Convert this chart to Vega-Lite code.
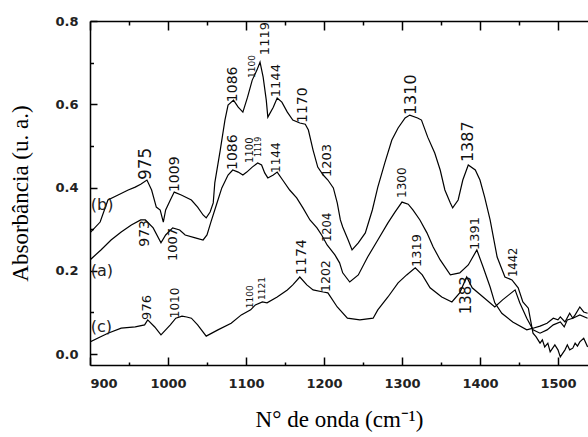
{
  "$schema": "https://vega.github.io/schema/vega-lite/v6.json",
  "autosize": "none",
  "width": 498,
  "height": 344,
  "padding": {"left": 90, "top": 21, "right": 0, "bottom": 72},
  "background": "white",
  "config": {"view": {"stroke": null}, "axis": {"grid": false, "domainColor": "#000", "tickColor": "#000", "domainWidth": 1.5, "tickWidth": 1.5}},
  "datasets": {
    "curves": [
      {"s":"b","x":900,"y":0.291},{"s":"b","x":913,"y":0.317},{"s":"b","x":923,"y":0.370},{"s":"b","x":936,"y":0.382},{"s":"b","x":949,"y":0.394},{"s":"b","x":958,"y":0.401},{"s":"b","x":965,"y":0.408},{"s":"b","x":973,"y":0.418},{"s":"b","x":979,"y":0.394},{"s":"b","x":985,"y":0.353},{"s":"b","x":990,"y":0.346},{"s":"b","x":994,"y":0.317},{"s":"b","x":997,"y":0.346},{"s":"b","x":1003,"y":0.370},{"s":"b","x":1008,"y":0.389},{"s":"b","x":1017,"y":0.382},{"s":"b","x":1030,"y":0.370},{"s":"b","x":1038,"y":0.353},{"s":"b","x":1045,"y":0.334},{"s":"b","x":1049,"y":0.327},{"s":"b","x":1054,"y":0.341},{"s":"b","x":1058,"y":0.363},{"s":"b","x":1060,"y":0.411},{"s":"b","x":1067,"y":0.490},{"s":"b","x":1073,"y":0.562},{"s":"b","x":1077,"y":0.598},{"s":"b","x":1084,"y":0.610},{"s":"b","x":1090,"y":0.593},{"s":"b","x":1096,"y":0.581},{"s":"b","x":1102,"y":0.617},{"s":"b","x":1108,"y":0.658},{"s":"b","x":1114,"y":0.682},{"s":"b","x":1118,"y":0.701},{"s":"b","x":1122,"y":0.665},{"s":"b","x":1126,"y":0.610},{"s":"b","x":1128,"y":0.569},{"s":"b","x":1135,"y":0.593},{"s":"b","x":1140,"y":0.615},{"s":"b","x":1146,"y":0.605},{"s":"b","x":1153,"y":0.581},{"s":"b","x":1160,"y":0.562},{"s":"b","x":1169,"y":0.555},{"s":"b","x":1176,"y":0.552},{"s":"b","x":1180,"y":0.538},{"s":"b","x":1186,"y":0.490},{"s":"b","x":1192,"y":0.449},{"s":"b","x":1199,"y":0.430},{"s":"b","x":1205,"y":0.418},{"s":"b","x":1212,"y":0.399},{"s":"b","x":1217,"y":0.363},{"s":"b","x":1221,"y":0.322},{"s":"b","x":1224,"y":0.305},{"s":"b","x":1231,"y":0.274},{"s":"b","x":1236,"y":0.250},{"s":"b","x":1244,"y":0.267},{"s":"b","x":1253,"y":0.291},{"s":"b","x":1262,"y":0.346},{"s":"b","x":1269,"y":0.401},{"s":"b","x":1278,"y":0.459},{"s":"b","x":1287,"y":0.514},{"s":"b","x":1295,"y":0.543},{"s":"b","x":1304,"y":0.567},{"s":"b","x":1310,"y":0.574},{"s":"b","x":1320,"y":0.567},{"s":"b","x":1325,"y":0.562},{"s":"b","x":1333,"y":0.521},{"s":"b","x":1342,"y":0.483},{"s":"b","x":1349,"y":0.442},{"s":"b","x":1355,"y":0.394},{"s":"b","x":1362,"y":0.363},{"s":"b","x":1365,"y":0.351},{"s":"b","x":1372,"y":0.370},{"s":"b","x":1378,"y":0.418},{"s":"b","x":1385,"y":0.454},{"s":"b","x":1394,"y":0.442},{"s":"b","x":1400,"y":0.418},{"s":"b","x":1406,"y":0.377},{"s":"b","x":1413,"y":0.322},{"s":"b","x":1422,"y":0.233},{"s":"b","x":1432,"y":0.185},{"s":"b","x":1441,"y":0.178},{"s":"b","x":1449,"y":0.159},{"s":"b","x":1455,"y":0.125},{"s":"b","x":1462,"y":0.110},{"s":"b","x":1468,"y":0.050},{"s":"b","x":1472,"y":0.041},{"s":"b","x":1477,"y":0.026},{"s":"b","x":1480,"y":0.034},{"s":"b","x":1483,"y":0.017},{"s":"b","x":1487,"y":0.026},{"s":"b","x":1490,"y":0.005},{"s":"b","x":1496,"y":0.022},{"s":"b","x":1500,"y":0.010},{"s":"b","x":1503,"y":-0.007},{"s":"b","x":1509,"y":0.010},{"s":"b","x":1512,"y":0.022},{"s":"b","x":1515,"y":0.010},{"s":"b","x":1519,"y":0.014},{"s":"b","x":1522,"y":0.026},{"s":"b","x":1525,"y":0.019},{"s":"b","x":1528,"y":0.029},{"s":"b","x":1533,"y":0.038},{"s":"b","x":1538,"y":0.017},
      {"s":"a","x":900,"y":0.226},{"s":"a","x":914,"y":0.250},{"s":"a","x":927,"y":0.274},{"s":"a","x":940,"y":0.293},{"s":"a","x":953,"y":0.310},{"s":"a","x":965,"y":0.322},{"s":"a","x":971,"y":0.322},{"s":"a","x":981,"y":0.303},{"s":"a","x":991,"y":0.267},{"s":"a","x":997,"y":0.286},{"s":"a","x":1006,"y":0.303},{"s":"a","x":1015,"y":0.298},{"s":"a","x":1022,"y":0.286},{"s":"a","x":1035,"y":0.279},{"s":"a","x":1045,"y":0.274},{"s":"a","x":1050,"y":0.286},{"s":"a","x":1055,"y":0.317},{"s":"a","x":1062,"y":0.358},{"s":"a","x":1069,"y":0.399},{"s":"a","x":1077,"y":0.430},{"s":"a","x":1083,"y":0.442},{"s":"a","x":1090,"y":0.437},{"s":"a","x":1096,"y":0.430},{"s":"a","x":1101,"y":0.437},{"s":"a","x":1108,"y":0.449},{"s":"a","x":1115,"y":0.459},{"s":"a","x":1120,"y":0.454},{"s":"a","x":1124,"y":0.435},{"s":"a","x":1128,"y":0.423},{"s":"a","x":1135,"y":0.430},{"s":"a","x":1140,"y":0.437},{"s":"a","x":1147,"y":0.418},{"s":"a","x":1156,"y":0.394},{"s":"a","x":1165,"y":0.375},{"s":"a","x":1173,"y":0.351},{"s":"a","x":1182,"y":0.322},{"s":"a","x":1191,"y":0.303},{"s":"a","x":1197,"y":0.286},{"s":"a","x":1204,"y":0.262},{"s":"a","x":1214,"y":0.238},{"s":"a","x":1220,"y":0.219},{"s":"a","x":1224,"y":0.195},{"s":"a","x":1233,"y":0.173},{"s":"a","x":1244,"y":0.190},{"s":"a","x":1256,"y":0.233},{"s":"a","x":1269,"y":0.274},{"s":"a","x":1282,"y":0.315},{"s":"a","x":1291,"y":0.341},{"s":"a","x":1300,"y":0.365},{"s":"a","x":1308,"y":0.360},{"s":"a","x":1314,"y":0.346},{"s":"a","x":1323,"y":0.322},{"s":"a","x":1332,"y":0.291},{"s":"a","x":1340,"y":0.257},{"s":"a","x":1349,"y":0.226},{"s":"a","x":1362,"y":0.190},{"s":"a","x":1374,"y":0.195},{"s":"a","x":1385,"y":0.214},{"s":"a","x":1396,"y":0.250},{"s":"a","x":1404,"y":0.209},{"s":"a","x":1413,"y":0.161},{"s":"a","x":1419,"y":0.123},{"s":"a","x":1428,"y":0.098},{"s":"a","x":1442,"y":0.077},{"s":"a","x":1460,"y":0.058},{"s":"a","x":1468,"y":0.062},{"s":"a","x":1477,"y":0.067},{"s":"a","x":1486,"y":0.074},{"s":"a","x":1494,"y":0.086},{"s":"a","x":1500,"y":0.082},{"s":"a","x":1503,"y":0.089},{"s":"a","x":1509,"y":0.077},{"s":"a","x":1515,"y":0.098},{"s":"a","x":1519,"y":0.086},{"s":"a","x":1522,"y":0.094},{"s":"a","x":1528,"y":0.113},{"s":"a","x":1533,"y":0.101},{"s":"a","x":1538,"y":0.098},
      {"s":"c","x":900,"y":0.029},{"s":"c","x":913,"y":0.041},{"s":"c","x":923,"y":0.050},{"s":"c","x":940,"y":0.062},{"s":"c","x":958,"y":0.065},{"s":"c","x":970,"y":0.070},{"s":"c","x":974,"y":0.082},{"s":"c","x":983,"y":0.065},{"s":"c","x":991,"y":0.046},{"s":"c","x":1003,"y":0.070},{"s":"c","x":1010,"y":0.086},{"s":"c","x":1018,"y":0.091},{"s":"c","x":1024,"y":0.089},{"s":"c","x":1030,"y":0.086},{"s":"c","x":1038,"y":0.070},{"s":"c","x":1049,"y":0.043},{"s":"c","x":1064,"y":0.058},{"s":"c","x":1081,"y":0.074},{"s":"c","x":1094,"y":0.094},{"s":"c","x":1106,"y":0.106},{"s":"c","x":1112,"y":0.118},{"s":"c","x":1121,"y":0.125},{"s":"c","x":1127,"y":0.123},{"s":"c","x":1140,"y":0.137},{"s":"c","x":1153,"y":0.154},{"s":"c","x":1160,"y":0.166},{"s":"c","x":1169,"y":0.185},{"s":"c","x":1178,"y":0.166},{"s":"c","x":1186,"y":0.154},{"s":"c","x":1199,"y":0.149},{"s":"c","x":1205,"y":0.147},{"s":"c","x":1217,"y":0.113},{"s":"c","x":1230,"y":0.086},{"s":"c","x":1246,"y":0.082},{"s":"c","x":1263,"y":0.086},{"s":"c","x":1269,"y":0.106},{"s":"c","x":1282,"y":0.137},{"s":"c","x":1295,"y":0.171},{"s":"c","x":1306,"y":0.190},{"s":"c","x":1317,"y":0.207},{"s":"c","x":1326,"y":0.190},{"s":"c","x":1336,"y":0.159},{"s":"c","x":1351,"y":0.137},{"s":"c","x":1364,"y":0.125},{"s":"c","x":1374,"y":0.147},{"s":"c","x":1383,"y":0.185},{"s":"c","x":1390,"y":0.159},{"s":"c","x":1404,"y":0.137},{"s":"c","x":1419,"y":0.113},{"s":"c","x":1429,"y":0.130},{"s":"c","x":1437,"y":0.142},{"s":"c","x":1445,"y":0.154},{"s":"c","x":1451,"y":0.123},{"s":"c","x":1460,"y":0.086},{"s":"c","x":1468,"y":0.058},{"s":"c","x":1477,"y":0.050},{"s":"c","x":1486,"y":0.058},{"s":"c","x":1494,"y":0.070},{"s":"c","x":1503,"y":0.077},{"s":"c","x":1508,"y":0.065},{"s":"c","x":1512,"y":0.082},{"s":"c","x":1519,"y":0.086},{"s":"c","x":1528,"y":0.094},{"s":"c","x":1538,"y":0.086}
    ],
    "aboveB": [
      {"t":"975","x":972.4,"y":0.418,"fs":17},{"t":"1009","x":1009,"y":0.389,"fs":14},{"t":"1086","x":1083.3,"y":0.605,"fs":14},{"t":"1100","x":1108.3,"y":0.663,"fs":9},{"t":"1119","x":1124,"y":0.718,"fs":13},{"t":"1144","x":1139,"y":0.617,"fs":13},{"t":"1170","x":1173,"y":0.555,"fs":14},{"t":"1203","x":1204.5,"y":0.425,"fs":13},{"t":"1310","x":1311.5,"y":0.574,"fs":16},{"t":"1387","x":1385,"y":0.461,"fs":16},{"t":"1442","x":1443.6,"y":0.185,"fs":11.5}
    ],
    "aboveAC": [
      {"t":"1086","x":1083.3,"y":0.442,"fs":14},{"t":"1100","x":1105,"y":0.459,"fs":10},{"t":"1119","x":1116.7,"y":0.473,"fs":8},{"t":"1144","x":1139,"y":0.435,"fs":12},{"t":"1204","x":1205,"y":0.269,"fs":11.5},{"t":"1300","x":1300,"y":0.375,"fs":12},{"t":"1391","x":1393.6,"y":0.250,"fs":13},
      {"t":"976","x":973,"y":0.082,"fs":13},{"t":"1010","x":1009,"y":0.086,"fs":12},{"t":"1100","x":1105,"y":0.110,"fs":9},{"t":"1121","x":1120,"y":0.130,"fs":9},{"t":"1174","x":1172,"y":0.190,"fs":14},{"t":"1202","x":1202.6,"y":0.149,"fs":12.5},{"t":"1319","x":1319,"y":0.209,"fs":13}
    ],
    "below": [
      {"t":"973","x":969.9,"y":0.322,"fs":14},{"t":"1007","x":1006.4,"y":0.303,"fs":13},{"t":"1383","x":1382,"y":0.187,"fs":15}
    ],
    "series": [
      {"t":"(b)","x":901,"y":0.358},{"t":"(a)","x":901,"y":0.199},{"t":"(c)","x":901,"y":0.065}
    ]
  },
  "resolve": {"axis": {"x": "independent", "y": "independent"}},
  "layer": [
    {
      "data": {"name": "curves"},
      "mark": {"type": "line", "color": "#000", "strokeWidth": 1.2, "clip": true},
      "encoding": {
        "x": {"field": "x", "type": "quantitative",
          "scale": {"domain": [900, 1538.5], "nice": false, "zero": false},
          "axis": {"orient": "bottom", "values": [900, 1000, 1100, 1200, 1300, 1400, 1500], "format": "d", "ticks": false, "labelPadding": 12,
            "labelFont": "DejaVu Sans", "labelFontWeight": "bold", "labelFontSize": 13, "labelColor": "#222",
            "title": "N° de onda (cm⁻¹)", "titleFont": "Liberation Serif", "titleFontWeight": "normal", "titleFontSize": 23, "titleColor": "#000", "titlePadding": 18}},
        "y": {"field": "y", "type": "quantitative",
          "scale": {"domain": [-0.0264, 0.8], "nice": false, "zero": false},
          "axis": {"orient": "left", "values": [0, 0.2, 0.4, 0.6, 0.8], "format": ".1f", "ticks": false, "labelPadding": 12,
            "labelFont": "DejaVu Sans", "labelFontWeight": "bold", "labelFontSize": 13, "labelColor": "#222",
            "title": "Absorbância (u. a.)", "titleFont": "Liberation Serif", "titleFontWeight": "normal", "titleFontSize": 23, "titleColor": "#000", "titlePadding": 22}},
        "detail": {"field": "s"}
      }
    },
    {
      "data": {"name": "aboveB"},
      "mark": {"type": "text", "angle": 270, "align": "left", "baseline": "middle", "font": "DejaVu Sans", "color": "#111"},
      "encoding": {
        "x": {"field": "x", "type": "quantitative",
          "axis": {"orient": "bottom", "values": [900, 1000, 1100, 1200, 1300, 1400, 1500], "tickSize": -8, "labels": false, "domain": false, "title": null}},
        "y": {"field": "y", "type": "quantitative",
          "axis": {"orient": "left", "values": [0, 0.2, 0.4, 0.6, 0.8], "tickSize": -7, "labels": false, "domain": false, "title": null}},
        "text": {"field": "t"},
        "size": {"field": "fs", "type": "quantitative", "scale": null}
      }
    },
    {
      "data": {"name": "aboveAC"},
      "mark": {"type": "text", "angle": 270, "align": "left", "baseline": "middle", "font": "DejaVu Sans", "color": "#111"},
      "encoding": {
        "x": {"field": "x", "type": "quantitative",
          "axis": {"orient": "bottom", "values": [950, 1050, 1150, 1250, 1350, 1450], "tickSize": -3, "labels": false, "domain": false, "title": null}},
        "y": {"field": "y", "type": "quantitative",
          "axis": {"orient": "left", "values": [0.1, 0.3, 0.5, 0.7], "tickSize": -3.5, "labels": false, "domain": false, "title": null}},
        "text": {"field": "t"},
        "size": {"field": "fs", "type": "quantitative", "scale": null}
      }
    },
    {
      "data": {"name": "below"},
      "mark": {"type": "text", "angle": 270, "align": "right", "baseline": "middle", "font": "DejaVu Sans", "color": "#111"},
      "encoding": {
        "x": {"field": "x", "type": "quantitative",
          "axis": {"orient": "top", "values": [900, 1000, 1100, 1200, 1300, 1400, 1500], "tickSize": -9, "labels": false, "domain": true, "title": null}},
        "y": {"field": "y", "type": "quantitative", "axis": null},
        "text": {"field": "t"},
        "size": {"field": "fs", "type": "quantitative", "scale": null}
      }
    },
    {
      "data": {"name": "series"},
      "mark": {"type": "text", "align": "left", "baseline": "middle", "font": "DejaVu Sans", "fontSize": 16, "color": "#222"},
      "encoding": {
        "x": {"field": "x", "type": "quantitative",
          "axis": {"orient": "top", "values": [950, 1050, 1150, 1250, 1350, 1450], "tickSize": -4, "labels": false, "domain": false, "title": null}},
        "y": {"field": "y", "type": "quantitative", "axis": null},
        "text": {"field": "t"}
      }
    }
  ]
}
